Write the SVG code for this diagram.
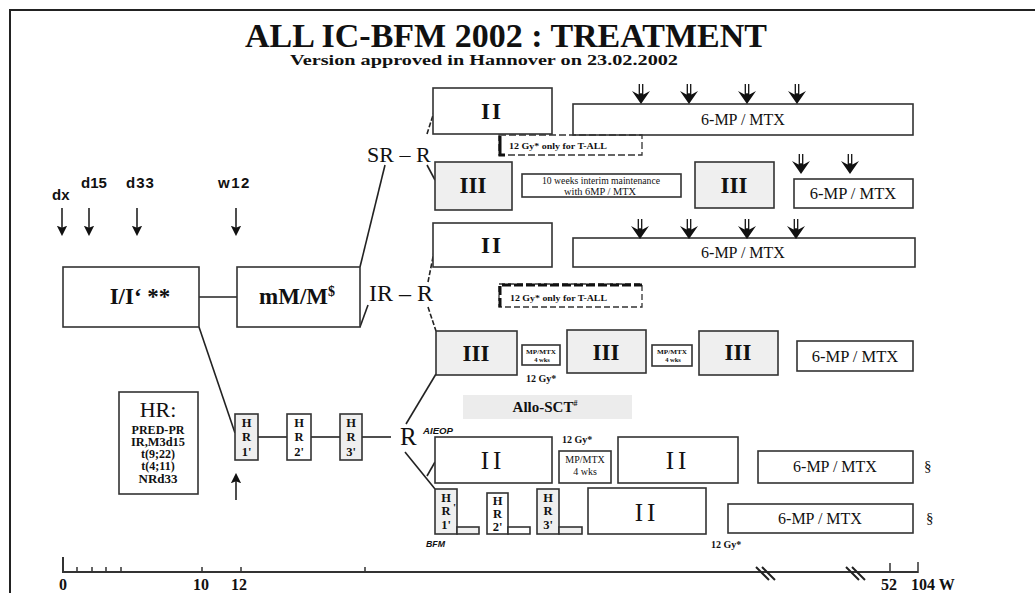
<svg xmlns="http://www.w3.org/2000/svg" width="1035" height="593" viewBox="0 0 1035 593">
<style>
.bx{fill:#fff;stroke:#333;stroke-width:1.6}
.gy{fill:#efefef;stroke:#333;stroke-width:1.6}
.ln{stroke:#222;stroke-width:1.6;fill:none}
.t{font-family:"Liberation Serif","Times New Roman",serif;fill:#111}
.b{font-weight:bold}
.s{font-family:"Liberation Sans",Arial,sans-serif;font-weight:bold;fill:#111}
.c{text-anchor:middle}
.big{font-size:23px;font-weight:bold}
.mp{font-size:16px}
.sm{font-size:10px;font-weight:bold}
</style>
<defs>
<marker id="ah" viewBox="0 0 10 10" refX="8" refY="5" markerWidth="6.5" markerHeight="6.5" orient="auto"><path d="M0,0 L10,5 L0,10 L2,5 Z" fill="#111"/></marker>
<g id="fa"><line x1="-1.7" y1="-19" x2="-1.7" y2="-8" stroke="#111" stroke-width="1.3"/><line x1="1.7" y1="-19" x2="1.7" y2="-8" stroke="#111" stroke-width="1.3"/><path d="M0,1 L-9,-12 L-2.5,-8.5 L0,-10 L2.5,-8.5 L9,-12 Z" fill="#111"/></g>
</defs>
<rect width="1035" height="593" fill="#fff"/>
<path d="M10,593 V10 H1035" fill="none" stroke="#222" stroke-width="2"/>
<g id="title">
<text class="t b c" x="506" y="47" font-size="34" textLength="522" lengthAdjust="spacingAndGlyphs">ALL IC-BFM 2002 : TREATMENT</text>
<text class="t b c" x="484" y="65" font-size="15" textLength="388" lengthAdjust="spacingAndGlyphs">Version approved in Hannover on 23.02.2002</text>
</g>
<g id="timepoints">
<text class="s" x="52" y="200" font-size="15">dx</text>
<text class="s" x="81" y="188" font-size="15">d15</text>
<text class="s" x="126" y="188" font-size="15" letter-spacing="1">d33</text>
<text class="s" x="218" y="188" font-size="15" letter-spacing="1.5">w12</text>
<line class="ln" x1="62" y1="208" x2="62" y2="234" marker-end="url(#ah)"/>
<line class="ln" x1="89" y1="208" x2="89" y2="234" marker-end="url(#ah)"/>
<line class="ln" x1="137" y1="208" x2="137" y2="234" marker-end="url(#ah)"/>
<line class="ln" x1="236" y1="208" x2="236" y2="234" marker-end="url(#ah)"/>
<line class="ln" x1="236" y1="500" x2="236" y2="475" marker-end="url(#ah)"/>
</g>
<g id="connectors">
<line class="ln" x1="199" y1="297" x2="237" y2="297"/>
<line class="ln" x1="199" y1="327" x2="235" y2="433"/>
<line class="ln" x1="360" y1="267" x2="385" y2="165"/>
<line class="ln" x1="360" y1="327" x2="368" y2="305"/>
<line class="ln" x1="427" y1="134" x2="434" y2="112" stroke-dasharray="5,2"/>
<line class="ln" x1="427" y1="165" x2="435" y2="180"/>
<line class="ln" x1="428" y1="282" x2="435" y2="247" stroke-dasharray="5,2"/>
<line class="ln" x1="428" y1="307" x2="436" y2="331" stroke-dasharray="5,2"/>
<line class="ln" x1="258" y1="437" x2="287" y2="437"/>
<line class="ln" x1="311" y1="437" x2="340" y2="437"/>
<line class="ln" x1="362" y1="437" x2="391" y2="437"/>
<line class="ln" x1="406" y1="424" x2="436" y2="374"/>
<line class="ln" x1="405" y1="452" x2="435" y2="489"/>
<line class="ln" x1="427" y1="476" x2="435" y2="462"/>
</g>
<g id="induction">
<rect class="bx" x="63" y="267" width="136" height="60"/>
<text class="t big c" x="140" y="304">I/I‘ **</text>
</g>
<g id="mM">
<rect class="bx" x="237" y="267" width="123" height="60"/>
<text class="t big c" x="297" y="304">mM/M<tspan font-size="14" dy="-8">$</tspan></text>
</g>
<g id="hr-criteria">
<rect class="bx" x="119" y="392" width="79" height="102"/>
<text class="t c" x="158" y="417" font-size="22">HR:</text>
<text class="t b c" x="158" y="434" font-size="12" textLength="53" lengthAdjust="spacingAndGlyphs">PRED-PR</text>
<text class="t b c" x="158" y="446" font-size="12" textLength="54" lengthAdjust="spacingAndGlyphs">IR,M3d15</text>
<text class="t b c" x="158" y="458" font-size="12">t(9;22)</text>
<text class="t b c" x="158" y="470" font-size="12">t(4;11)</text>
<text class="t b c" x="158" y="483" font-size="12" textLength="39" lengthAdjust="spacingAndGlyphs">NRd33</text>
</g>
<g id="hr-blocks">
<rect class="gy" x="235" y="414" width="23" height="46"/>
<text class="t b c" x="246.5" y="427" font-size="12.5">H</text>
<text class="t b c" x="246.5" y="441" font-size="12.5">R</text>
<text class="t b c" x="246.5" y="456" font-size="12.5">1'</text>
<rect class="bx" x="287" y="414" width="24" height="46"/>
<text class="t b c" x="299" y="427" font-size="12.5">H</text>
<text class="t b c" x="299" y="441" font-size="12.5">R</text>
<text class="t b c" x="299" y="456" font-size="12.5">2'</text>
<rect class="gy" x="340" y="414" width="22" height="46"/>
<text class="t b c" x="351" y="427" font-size="12.5">H</text>
<text class="t b c" x="351" y="441" font-size="12.5">R</text>
<text class="t b c" x="351" y="456" font-size="12.5">3'</text>
<text class="t" x="400" y="445" font-size="25">R</text>
</g>
<g id="sr">
<text class="t" x="367" y="162" font-size="22">SR – R</text>
<rect class="bx" x="433" y="88" width="119" height="46"/>
<text class="t big c" x="492" y="119" letter-spacing="2">II</text>
<rect class="bx" x="573" y="104" width="340" height="31"/>
<text class="t mp c" x="743" y="125">6-MP / MTX</text>
<use href="#fa" x="641" y="103"/>
<use href="#fa" x="689" y="103"/>
<use href="#fa" x="747" y="103"/>
<use href="#fa" x="797" y="103"/>
<rect x="499" y="135" width="143" height="20" fill="none" stroke="#333" stroke-width="1.3" stroke-dasharray="7,3"/>
<path d="M500,136 V155 H505" fill="none" stroke="#111" stroke-width="3"/>
<text class="t b" x="509" y="149" font-size="9" textLength="98" lengthAdjust="spacingAndGlyphs">12 Gy* only for T-ALL</text>
<rect class="gy" x="435" y="162" width="77" height="48"/>
<text class="t big c" x="473" y="193">III</text>
<rect class="bx" x="522" y="174" width="159" height="23"/>
<text class="t c" x="601" y="184" font-size="9.5" textLength="118" lengthAdjust="spacingAndGlyphs">10 weeks interim maintenance</text>
<text class="t c" x="600" y="194.5" font-size="9.5" textLength="72" lengthAdjust="spacingAndGlyphs">with 6MP / MTX</text>
<rect class="gy" x="695" y="162" width="79" height="46"/>
<text class="t big c" x="734" y="193">III</text>
<rect class="bx" x="794" y="179" width="119" height="29"/>
<text class="t c" x="853" y="199" font-size="16.5">6-MP / MTX</text>
<use href="#fa" x="801" y="173"/>
<use href="#fa" x="850" y="173"/>
</g>
<g id="ir">
<text class="t" x="369" y="301" font-size="24">IR – R</text>
<rect class="bx" x="433" y="223" width="119" height="44"/>
<text class="t big c" x="492" y="253" letter-spacing="2">II</text>
<rect class="bx" x="573" y="238" width="342" height="29"/>
<text class="t mp c" x="743" y="258">6-MP / MTX</text>
<use href="#fa" x="640" y="238"/>
<use href="#fa" x="689" y="238"/>
<use href="#fa" x="747" y="238"/>
<use href="#fa" x="796" y="238"/>
<rect x="499" y="284" width="143" height="23" fill="none" stroke="#333" stroke-width="1.3" stroke-dasharray="6,3"/>
<path d="M500,307 V285 H642" fill="none" stroke="#111" stroke-width="3" stroke-dasharray="9,3"/>
<text class="t b" x="510" y="301" font-size="9" textLength="97" lengthAdjust="spacingAndGlyphs">12 Gy* only for T-ALL</text>
<rect class="gy" x="436" y="331" width="81" height="44"/>
<text class="t big c" x="476" y="361">III</text>
<rect class="bx" x="522" y="345" width="38" height="20"/>
<text class="t b c" x="541" y="354" font-size="6.5" textLength="30" lengthAdjust="spacingAndGlyphs">MP/MTX</text>
<text class="t b c" x="542" y="362" font-size="6.5">4 wks</text>
<text class="t b" x="526" y="382" font-size="10">12 Gy*</text>
<rect class="gy" x="567" y="330" width="79" height="43"/>
<text class="t big c" x="606" y="360">III</text>
<rect class="bx" x="652" y="345" width="40" height="21"/>
<text class="t b c" x="672" y="354" font-size="6.5" textLength="30" lengthAdjust="spacingAndGlyphs">MP/MTX</text>
<text class="t b c" x="673" y="362" font-size="6.5">4 wks</text>
<rect class="gy" x="699" y="331" width="79" height="44"/>
<text class="t big c" x="738" y="360">III</text>
<rect class="bx" x="797" y="341" width="116" height="30"/>
<text class="t c" x="855" y="362" font-size="16.5">6-MP / MTX</text>
</g>
<g id="hr-r">
<rect x="463" y="395" width="169" height="24" fill="#ececec"/>
<text class="t b c" x="545" y="412" font-size="15">Allo-SCT<tspan font-size="8" dy="-6">#</tspan></text>
<text class="s" x="423" y="434" font-size="9.5" font-style="italic" textLength="30" lengthAdjust="spacingAndGlyphs">AIEOP</text>
<rect class="bx" x="435" y="437" width="117" height="46"/>
<text class="t c" x="493" y="469" font-size="25" letter-spacing="4">II</text>
<text class="t b" x="562" y="443" font-size="10">12 Gy*</text>
<rect class="bx" x="559" y="451" width="52" height="32"/>
<text class="t c" x="585" y="463" font-size="10">MP/MTX</text>
<text class="t c" x="585" y="475" font-size="10">4 wks</text>
<rect class="bx" x="618" y="437" width="120" height="46"/>
<text class="t c" x="678" y="469" font-size="25" letter-spacing="4">II</text>
<rect class="bx" x="758" y="451" width="155" height="32"/>
<text class="t c" x="835" y="472" font-size="16">6-MP / MTX</text>
<text class="t" x="924" y="471" font-size="15">§</text>
<rect class="gy" x="435" y="489" width="22" height="45"/>
<rect class="gy" x="457" y="527" width="22" height="7"/>
<text class="t b c" x="446" y="502" font-size="12.5">H</text>
<text class="t b c" x="446" y="515" font-size="12.5">R</text>
<text class="t b c" x="446" y="529" font-size="12.5">1'</text>
<text class="t b" x="453" y="511" font-size="11">'</text>
<rect class="bx" x="487" y="493" width="21" height="41"/>
<rect class="bx" x="508" y="527" width="22" height="7"/>
<text class="t b c" x="497.5" y="505" font-size="12.5">H</text>
<text class="t b c" x="497.5" y="518" font-size="12.5">R</text>
<text class="t b c" x="497.5" y="531" font-size="12.5">2'</text>
<rect class="gy" x="537" y="489" width="22" height="45"/>
<rect class="gy" x="559" y="527" width="23" height="7"/>
<text class="t b c" x="548" y="502" font-size="12.5">H</text>
<text class="t b c" x="548" y="515" font-size="12.5">R</text>
<text class="t b c" x="548" y="529" font-size="12.5">3'</text>
<text class="s" x="426" y="547" font-size="9.5" font-style="italic" textLength="19" lengthAdjust="spacingAndGlyphs">BFM</text>
<rect class="bx" x="588" y="488" width="118" height="46"/>
<text class="t c" x="647" y="521" font-size="25" letter-spacing="4">II</text>
<text class="t b" x="711" y="548" font-size="10">12 Gy*</text>
<rect class="bx" x="728" y="504" width="185" height="29"/>
<text class="t c" x="820" y="524" font-size="16">6-MP / MTX</text>
<text class="t" x="926" y="523" font-size="15">§</text>
</g>
<g id="axis">
<line x1="63" y1="572" x2="918" y2="572" stroke="#333" stroke-width="2"/>
<line x1="63" y1="557" x2="63" y2="573" stroke="#333" stroke-width="2"/>
<path d="M77,567V572 M92,567V572 M106,567V572 M121,567V572 M202,567V572 M241,567V572 M365,567V572 M890,563V572 M918,562V573" stroke="#333" stroke-width="1.5" fill="none"/>
<path d="M756,567 L769,580 M762,567 L775,580 M846,567 L859,580 M852,567 L865,580" stroke="#222" stroke-width="2" fill="none"/>
<text class="t b c" x="63" y="590" font-size="16">0</text>
<text class="t b c" x="201" y="590" font-size="16">10</text>
<text class="t b c" x="239" y="590" font-size="16">12</text>
<text class="t b c" x="889" y="590" font-size="16">52</text>
<text class="t b" x="911" y="590" font-size="16">104 W</text>
</g>
</svg>
